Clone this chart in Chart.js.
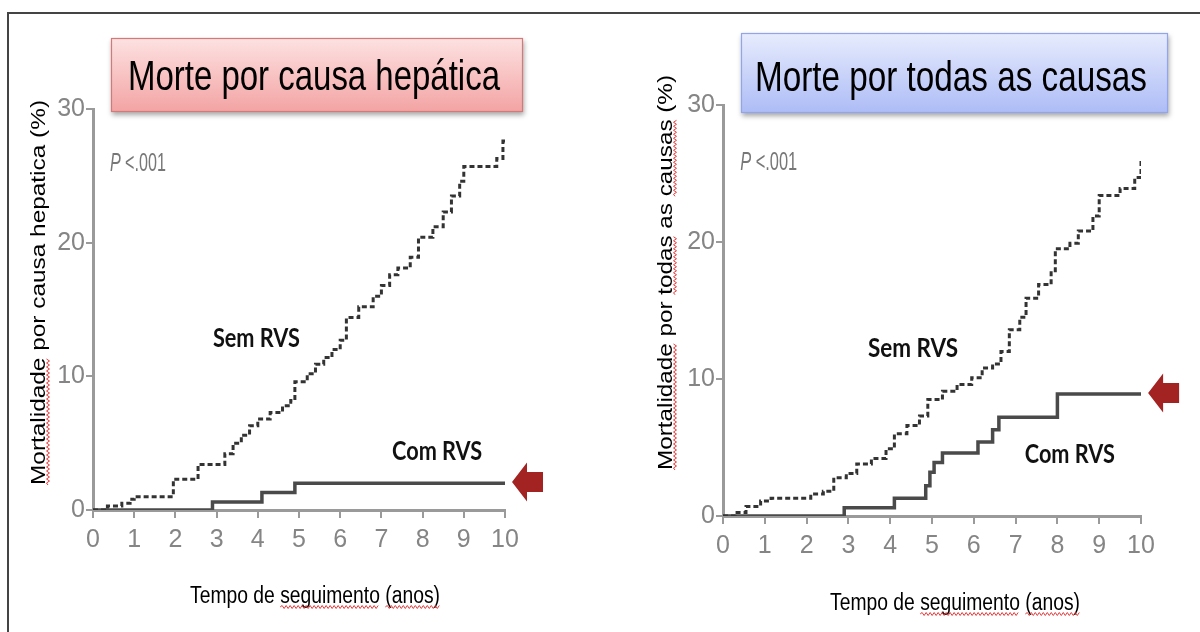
<!DOCTYPE html>
<html>
<head>
<meta charset="utf-8">
<script src="https://cdn.jsdelivr.net/npm/chart.js@4.4.1/dist/chart.umd.min.js"></script>
<style>
  html, body { margin:0; padding:0; background:#fff; }
  #wrap { position:relative; width:1200px; height:632px; overflow:hidden; }
  #frame { position:absolute; left:7px; top:12px; width:1300px; height:700px; border-top:2px solid #444; border-left:2px solid #444; }
  .half { position:absolute; top:0; width:600px; height:632px; }
</style>
</head>
<body>
<div id="wrap">
  <div id="frame"></div>
  <div class="half" style="left:0"><canvas id="c1"></canvas></div>
  <div class="half" style="left:600px"><canvas id="c2"></canvas></div>
</div>
<script>
// eixos
const anos   = [0,1,2,3,4,5,6,7,8,9,10];
const yTicks = [0,10,20,30];

// Morte por causa hepática
const hepSemX = [0,0.35,0.7,0.9,1.0,1.95,2.55,3.2,3.4,3.6,3.8,4.0,4.3,4.6,4.8,4.9,5.2,5.4,5.6,5.8,6.0,6.15,6.45,6.8,7.0,7.2,7.4,7.7,7.9,8.25,8.5,8.7,8.9,9.0,9.8,9.95,10];
const hepSemY = [0,0.3,0.5,0.8,1.0,2.3,3.4,4.2,5.0,5.6,6.3,6.8,7.3,7.8,8.2,9.6,10.2,10.9,11.4,12.0,12.7,14.4,15.2,16.0,16.8,17.6,18.1,18.9,20.4,21.2,22.3,23.5,24.6,25.7,26.3,27.6,27.6];
const hepComX = [0,2.9,4.1,4.9,10];
const hepComY = [0,0.6,1.3,2.0,2.0];

// Morte por todas as causas
const todSemX = [0,0.3,0.55,0.9,1.15,2.1,2.4,2.65,2.95,3.2,3.55,3.9,4.1,4.4,4.7,4.9,5.25,5.6,5.95,6.2,6.45,6.65,6.85,7.1,7.25,7.55,7.85,7.95,8.3,8.5,8.85,9.0,9.5,9.85,10];
const todSemY = [0,0.25,0.7,1.1,1.3,1.6,1.8,2.8,3.1,3.8,4.2,4.9,6.0,6.6,7.3,8.5,9.1,9.6,10.1,10.8,11.1,12.0,13.6,14.5,15.9,16.9,17.9,19.5,19.9,20.8,21.9,23.4,23.9,24.7,26.1];
const todComX = [0,2.9,4.1,4.85,4.95,5.05,5.25,6.1,6.45,6.6,8.0,10];
const todComY = [0,0.6,1.3,2.2,3.2,3.9,4.6,5.4,6.3,7.2,8.9,8.9];

const pts = (xs, ys) => xs.map((x,i) => ({x, y: ys[i]}));
const SANS = '"Liberation Sans", Arial, sans-serif';
const NARROW = '"Liberation Sans Narrow", "Arial Narrow", "Liberation Sans", Arial, sans-serif';

// texto ajustado a uma largura (a figura original está esticada)
function fitText(ctx, text, x, y, font, w, color){
  ctx.save();
  ctx.font = font; ctx.fillStyle = color;
  ctx.textAlign = 'left'; ctx.textBaseline = 'alphabetic';
  const s = w / ctx.measureText(text).width;
  ctx.translate(x, y); ctx.scale(s, 1);
  ctx.fillText(text, 0, 0);
  ctx.restore();
  return s;
}

function wavy(ctx, x0, x1, y){
  ctx.save();
  ctx.strokeStyle = '#e23b3b'; ctx.lineWidth = 1;
  ctx.beginPath();
  let up = true;
  ctx.moveTo(x0, y);
  for(let x = x0 + 2; x <= x1; x += 2){ ctx.lineTo(x, up ? y - 1.5 : y + 1.5); up = !up; }
  ctx.stroke();
  ctx.restore();
}

function underlineWords(ctx, text, font, s, x, y, words){
  ctx.save(); ctx.font = font;
  words.forEach(w => {
    const i = text.indexOf(w);
    const a = x + ctx.measureText(text.slice(0, i)).width * s;
    const b = a + ctx.measureText(w).width * s;
    wavy(ctx, a, b, y);
  });
  ctx.restore();
}

function arrow(ctx, tx, cy){
  ctx.save();
  ctx.fillStyle = '#a32222';
  ctx.beginPath();
  ctx.moveTo(tx, cy);
  ctx.lineTo(tx + 15, cy - 19.5);
  ctx.lineTo(tx + 15, cy - 10);
  ctx.lineTo(tx + 31, cy - 10);
  ctx.lineTo(tx + 31, cy + 10);
  ctx.lineTo(tx + 15, cy + 10);
  ctx.lineTo(tx + 15, cy + 19.5);
  ctx.closePath();
  ctx.fill();
  ctx.restore();
}

const decoPlugin = {
  id: 'deco',
  afterDraw(chart){
    const d = chart.options.plugins.deco;
    const ctx = chart.ctx;
    const sx = chart.scales.x, sy = chart.scales.y;

    // caixa do título
    const b = d.box;
    ctx.save();
    ctx.shadowColor = 'rgba(0,0,0,0.35)'; ctx.shadowBlur = 5; ctx.shadowOffsetX = 1; ctx.shadowOffsetY = 3;
    const g = ctx.createLinearGradient(0, b.y, 0, b.y + b.h);
    g.addColorStop(0, b.c1); g.addColorStop(1, b.c2);
    ctx.fillStyle = g;
    ctx.fillRect(b.x, b.y, b.w, b.h);
    ctx.restore();
    ctx.save();
    ctx.strokeStyle = b.border; ctx.lineWidth = 1.2;
    ctx.strokeRect(b.x + 0.5, b.y + 0.5, b.w - 1, b.h - 1);
    ctx.restore();
    fitText(ctx, b.text, b.tl, b.base, '42px ' + SANS, b.tr - b.tl, '#000');

    // título do eixo y (rodado)
    const yt = d.yTitle, yFont = '20px ' + SANS;
    ctx.save();
    ctx.translate(yt.cx + 7, yt.bottom);
    ctx.rotate(-Math.PI / 2);
    const s1 = fitText(ctx, yt.text, 0, 0, yFont, yt.bottom - yt.top, '#000');
    underlineWords(ctx, yt.text, yFont, s1, 0, 3, yt.wavy);
    ctx.restore();

    // título do eixo x
    const xt = d.xTitle, xFont = '23px ' + SANS;
    const s2 = fitText(ctx, xt.text, xt.left, xt.base, xFont, xt.right - xt.left, '#000');
    underlineWords(ctx, xt.text, xFont, s2, xt.left, xt.base + 4, xt.wavy);

    // P <.001
    const p = d.pval;
    const px = sx.getPixelForValue(p.x), py = sy.getPixelForValue(p.y);
    ctx.save();
    ctx.font = 'italic 25px ' + NARROW;
    const wP = ctx.measureText('P').width;
    ctx.font = '25px ' + NARROW;
    const wR = ctx.measureText(' <.001').width;
    const k = p.w / (wP + wR);
    ctx.translate(px, py); ctx.scale(k, 1);
    ctx.fillStyle = '#777';
    ctx.font = 'italic 25px ' + NARROW; ctx.fillText('P', 0, 0);
    ctx.font = '25px ' + NARROW; ctx.fillText(' <.001', wP, 0);
    ctx.restore();

    // rótulos das curvas
    d.labels.forEach(l => {
      fitText(ctx, l.text, sx.getPixelForValue(l.x), sy.getPixelForValue(l.y), 'bold 26px Lato, ' + SANS, l.w, '#111');
    });

    // seta
    arrow(ctx, sx.getPixelForValue(d.arrow.x), sy.getPixelForValue(d.arrow.y));
  }
};

function makeChart(id, semX, semY, comX, comY, area, deco){
  const axisColor = '#9a9a9a';
  return new Chart(document.getElementById(id), {
    type: 'line',
    data: {
      datasets: [
        { label: 'Sem RVS', data: pts(semX, semY), stepped: 'before', borderColor: '#333', borderWidth: 3,
          borderDash: [5, 3], pointRadius: 0, fill: false },
        { label: 'Com RVS', data: pts(comX, comY), stepped: 'before', borderColor: '#4a4a4a', borderWidth: 3.5,
          pointRadius: 0, fill: false }
      ]
    },
    options: {
      responsive: true,
      maintainAspectRatio: false,
      animation: false,
      layout: { padding: { left: 0, top: area.top, right: 600 - area.right, bottom: 0 } },
      scales: {
        x: {
          type: 'linear', min: 0, max: 10,
          afterBuildTicks: s => { s.ticks = anos.map(v => ({ value: v })); },
          afterFit: s => { s.height = 632 - area.bottom; },
          ticks: { color: '#858585', font: { family: NARROW, size: 25 }, padding: 7, autoSkip: false, maxRotation: 0 },
          grid: { drawOnChartArea: false, drawTicks: true, tickLength: 8, color: axisColor, lineWidth: 2 },
          border: { color: axisColor, width: 3 }
        },
        y: {
          min: 0, max: 30,
          afterBuildTicks: s => { s.ticks = yTicks.map(v => ({ value: v })); },
          afterFit: s => { s.width = area.left; },
          ticks: { color: '#858585', font: { family: NARROW, size: 25 }, padding: 1 },
          grid: { drawOnChartArea: false, drawTicks: true, tickLength: 7, color: axisColor, lineWidth: 2 },
          border: { color: axisColor, width: 3 }
        }
      },
      plugins: { legend: { display: false }, tooltip: { enabled: false }, deco }
    },
    plugins: [decoPlugin]
  });
}

makeChart('c1', hepSemX, hepSemY, hepComX, hepComY,
  { left: 93, right: 505, top: 109, bottom: 510 },
  {
    box: { x: 111, y: 38, w: 412, h: 74, text: 'Morte por causa hepática', tl: 128, tr: 500, base: 90,
           c1: '#fde2e2', c2: '#f3a3a3', border: '#d27a7a' },
    yTitle: { text: 'Mortalidade por causa hepatica (%)', cx: 38, top: 100, bottom: 485, wavy: ['Mortalidade'] },
    xTitle: { text: 'Tempo de seguimento (anos)', left: 190, right: 440, base: 603, wavy: ['seguimento', '(anos)'] },
    pval: { x: 0.41, y: 25.35, w: 56 },
    labels: [ { text: 'Sem RVS', x: 2.91, y: 12.2, w: 87 }, { text: 'Com RVS', x: 7.26, y: 3.75, w: 90 } ],
    arrow: { x: 10.17, y: 2.1 }
  });

makeChart('c2', todSemX, todSemY, todComX, todComY,
  { left: 123, right: 541, top: 105, bottom: 516 },
  {
    box: { x: 141, y: 33, w: 427, h: 80, text: 'Morte por todas as causas', tl: 155, tr: 547, base: 91,
           c1: '#e7ecfd', c2: '#adbcf6', border: '#92a5ea' },
    yTitle: { text: 'Mortalidade por todas as causas (%)', cx: 65, top: 75, bottom: 470, wavy: ['Mortalidade', 'todas', 'causas'] },
    xTitle: { text: 'Tempo de seguimento (anos)', left: 230, right: 480, base: 610, wavy: ['seguimento', '(anos)'] },
    pval: { x: 0.41, y: 25.25, w: 57 },
    labels: [ { text: 'Sem RVS', x: 3.47, y: 11.6, w: 90 }, { text: 'Com RVS', x: 7.22, y: 3.87, w: 90 } ],
    arrow: { x: 10.17, y: 8.98 }
  });
</script>
</body>
</html>
